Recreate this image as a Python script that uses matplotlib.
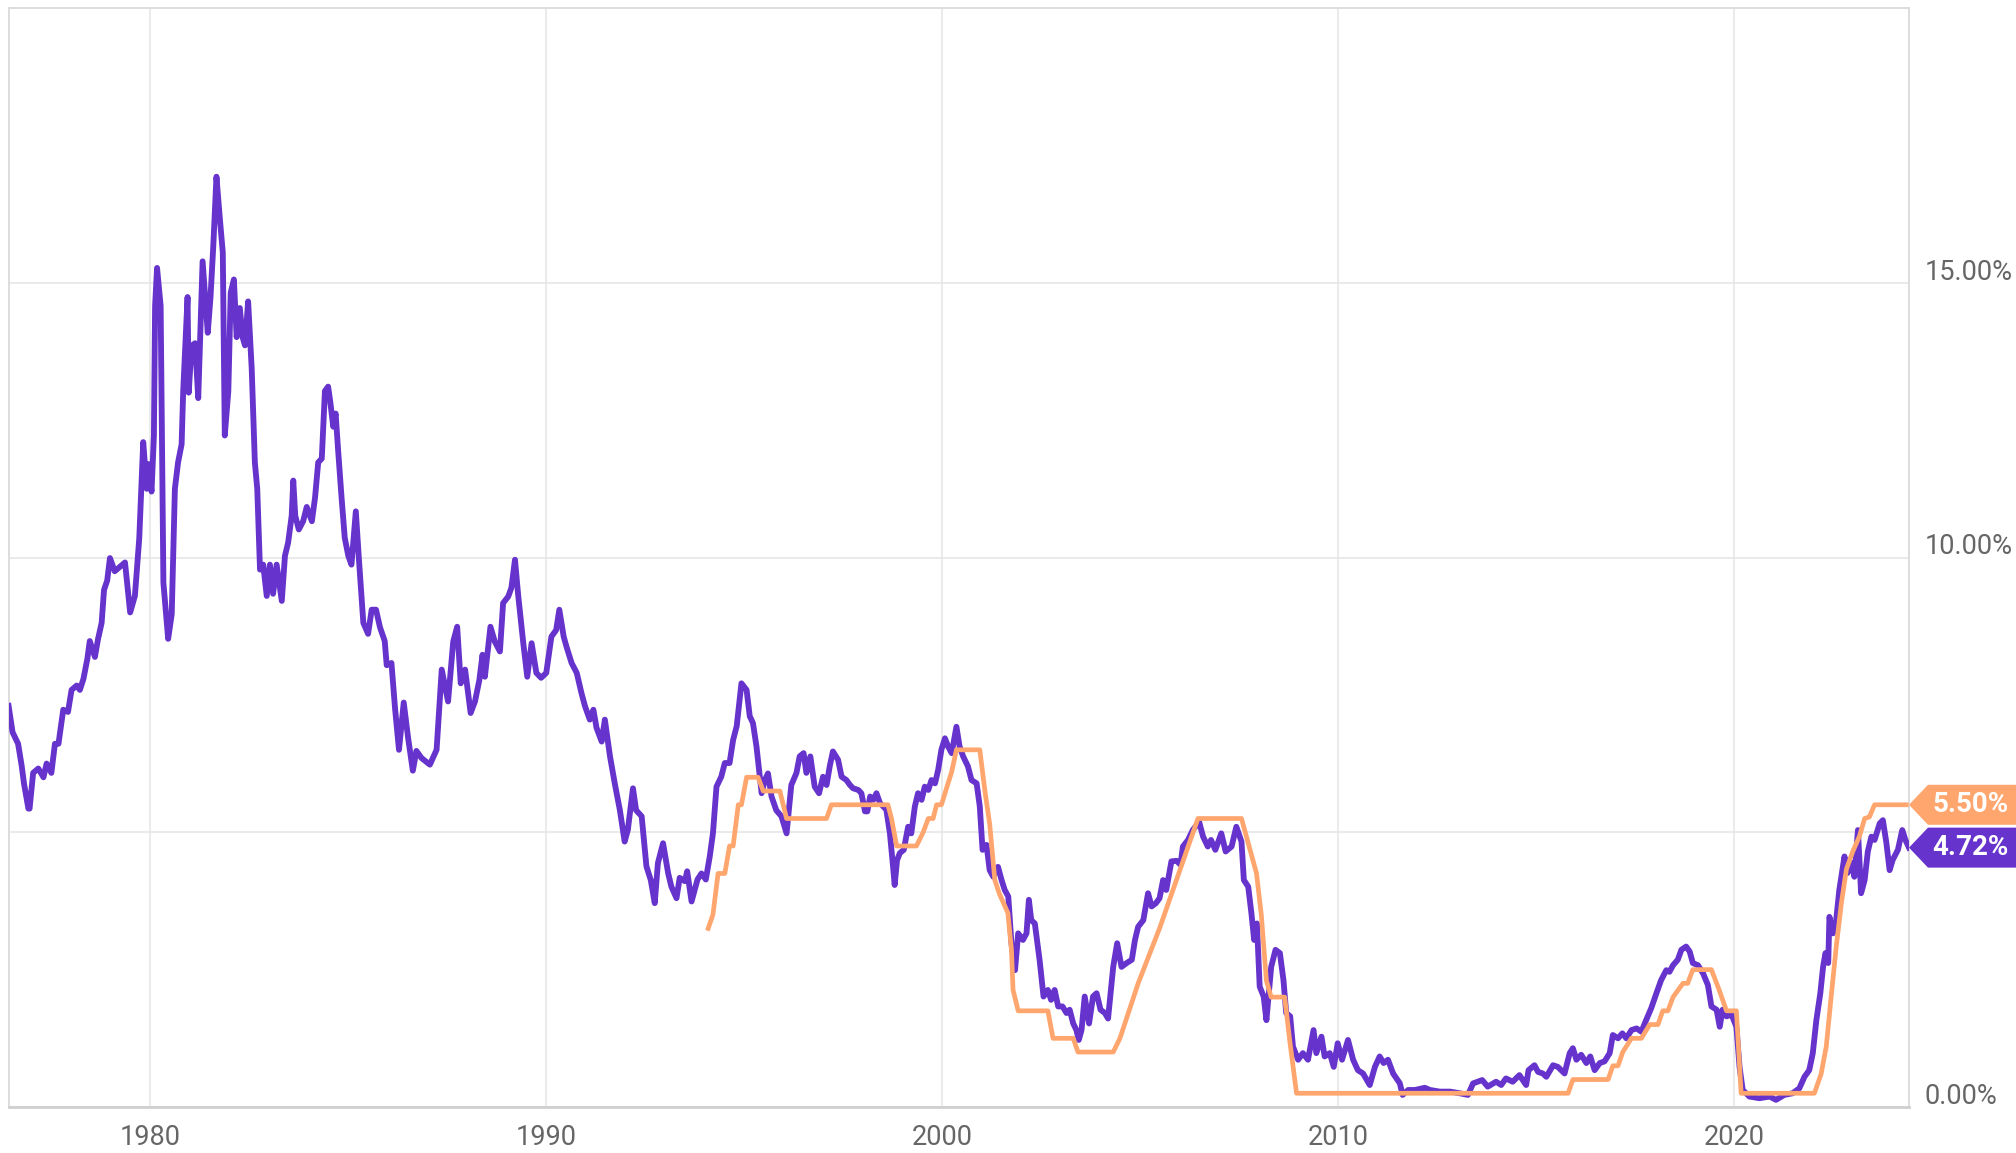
import matplotlib
matplotlib.use("Agg")
import matplotlib.pyplot as plt
from matplotlib.patches import Polygon
from matplotlib.transforms import offset_copy, IdentityTransform

# 2 year treasury yield (decimal year, %)
t2y_dates = [
    1976.42, 1976.52, 1976.66, 1976.75, 1976.81, 1976.92, 1976.95, 1977.04, 1977.17, 1977.30,
    1977.38, 1977.50, 1977.59, 1977.68, 1977.80, 1977.92, 1978.01, 1978.14, 1978.22, 1978.31,
    1978.41, 1978.47, 1978.60, 1978.68, 1978.77, 1978.83, 1978.91, 1978.98, 1979.10, 1979.23,
    1979.36, 1979.49, 1979.61, 1979.69, 1979.72, 1979.82, 1979.91, 1979.95, 1980.03, 1980.09,
    1980.12, 1980.17, 1980.26, 1980.33, 1980.45, 1980.54, 1980.62, 1980.70, 1980.79, 1980.83,
    1980.94, 1980.97, 1981.04, 1981.13, 1981.21, 1981.32, 1981.45, 1981.52, 1981.59, 1981.67,
    1981.76, 1981.83, 1981.88, 1981.97, 1982.03, 1982.11, 1982.18, 1982.26, 1982.33, 1982.39,
    1982.47, 1982.56, 1982.64, 1982.70, 1982.77, 1982.85, 1982.94, 1983.02, 1983.10, 1983.19,
    1983.32, 1983.40, 1983.48, 1983.57, 1983.61, 1983.66, 1983.75, 1983.86, 1983.95, 1984.08,
    1984.16, 1984.24, 1984.33, 1984.41, 1984.49, 1984.54, 1984.62, 1984.68, 1984.74, 1984.83,
    1984.91, 1985.00, 1985.08, 1985.19, 1985.27, 1985.38, 1985.50, 1985.59, 1985.70, 1985.80,
    1985.92, 1985.97, 1986.09, 1986.18, 1986.28, 1986.40, 1986.51, 1986.63, 1986.72, 1986.85,
    1987.06, 1987.23, 1987.36, 1987.52, 1987.65, 1987.75, 1987.84, 1987.95, 1988.09, 1988.20,
    1988.31, 1988.39, 1988.45, 1988.59, 1988.70, 1988.83, 1988.91, 1989.04, 1989.12, 1989.21,
    1989.29, 1989.42, 1989.52, 1989.63, 1989.75, 1989.87, 1990.00, 1990.13, 1990.25, 1990.33,
    1990.44, 1990.51, 1990.64, 1990.77, 1990.89, 1990.98, 1991.10, 1991.19, 1991.27, 1991.40,
    1991.48, 1991.61, 1991.73, 1991.86, 1991.98, 1992.06, 1992.19, 1992.27, 1992.41, 1992.53,
    1992.64, 1992.74, 1992.82, 1992.95, 1993.08, 1993.16, 1993.29, 1993.37, 1993.50, 1993.56,
    1993.67, 1993.82, 1993.92, 1994.03, 1994.13, 1994.21, 1994.30, 1994.42, 1994.51, 1994.63,
    1994.72, 1994.81, 1994.93, 1995.06, 1995.14, 1995.22, 1995.31, 1995.44, 1995.52, 1995.60,
    1995.69, 1995.81, 1995.94, 1996.07, 1996.19, 1996.32, 1996.40, 1996.50, 1996.57, 1996.67,
    1996.78, 1996.89, 1996.99, 1997.08, 1997.16, 1997.24, 1997.37, 1997.46, 1997.58, 1997.67,
    1997.75, 1997.88, 1997.96, 1998.05, 1998.11, 1998.18, 1998.26, 1998.34, 1998.43, 1998.59,
    1998.68, 1998.76, 1998.80, 1998.86, 1998.93, 1999.03, 1999.14, 1999.22, 1999.31, 1999.39,
    1999.48, 1999.56, 1999.65, 1999.73, 1999.82, 1999.90, 1999.98, 2000.07, 2000.15, 2000.24,
    2000.36, 2000.44, 2000.53, 2000.65, 2000.74, 2000.87, 2000.95, 2001.02, 2001.12, 2001.20,
    2001.29, 2001.41, 2001.50, 2001.58, 2001.67, 2001.75, 2001.84, 2001.92, 2002.04, 2002.13,
    2002.19, 2002.25, 2002.34, 2002.46, 2002.56, 2002.67, 2002.75, 2002.84, 2002.93, 2003.04,
    2003.14, 2003.22, 2003.31, 2003.39, 2003.45, 2003.52, 2003.60, 2003.71, 2003.81, 2003.90,
    2004.00, 2004.11, 2004.19, 2004.32, 2004.42, 2004.53, 2004.66, 2004.79, 2004.87, 2004.95,
    2005.08, 2005.20, 2005.29, 2005.40, 2005.49, 2005.58, 2005.66, 2005.79, 2005.92, 2006.02,
    2006.08, 2006.21, 2006.33, 2006.49, 2006.59, 2006.71, 2006.79, 2006.90, 2007.05, 2007.16,
    2007.31, 2007.43, 2007.56, 2007.62, 2007.73, 2007.81, 2007.88, 2007.95, 2008.02, 2008.12,
    2008.19, 2008.31, 2008.42, 2008.53, 2008.62, 2008.69, 2008.79, 2008.86, 2008.99, 2009.11,
    2009.24, 2009.38, 2009.45, 2009.58, 2009.66, 2009.79, 2009.89, 2009.99, 2010.10, 2010.25,
    2010.38, 2010.50, 2010.63, 2010.80, 2010.93, 2011.05, 2011.15, 2011.26, 2011.39, 2011.56,
    2011.63, 2011.77, 2011.94, 2012.19, 2012.32, 2012.57, 2012.83, 2013.07, 2013.28, 2013.41,
    2013.64, 2013.78, 2013.99, 2014.12, 2014.24, 2014.41, 2014.58, 2014.75, 2014.81, 2014.96,
    2015.05, 2015.17, 2015.26, 2015.43, 2015.55, 2015.72, 2015.85, 2015.93, 2016.02, 2016.14,
    2016.27, 2016.37, 2016.48, 2016.61, 2016.73, 2016.86, 2016.94, 2017.07, 2017.18, 2017.28,
    2017.41, 2017.54, 2017.66, 2017.78, 2017.91, 2018.04, 2018.16, 2018.29, 2018.37, 2018.46,
    2018.58, 2018.67, 2018.79, 2018.88, 2018.96, 2019.09, 2019.22, 2019.34, 2019.43, 2019.56,
    2019.64, 2019.71, 2019.81, 2019.94, 2020.06, 2020.14, 2020.22, 2020.39, 2020.64, 2020.90,
    2021.06, 2021.27, 2021.48, 2021.65, 2021.78, 2021.90, 2021.99, 2022.08, 2022.18, 2022.25,
    2022.31, 2022.38, 2022.41, 2022.50, 2022.58, 2022.66, 2022.79, 2022.87, 2022.98, 2023.04,
    2023.13, 2023.21, 2023.30, 2023.38, 2023.47, 2023.55, 2023.68, 2023.76, 2023.85, 2023.93,
    2024.01, 2024.14, 2024.25, 2024.33, 2024.42,
]
t2y_vals = [
    7.30, 6.82, 6.61, 6.21, 5.88, 5.43, 5.43, 6.08, 6.16, 6.00,
    6.25, 6.08, 6.61, 6.61, 7.23, 7.19, 7.59, 7.67, 7.59, 7.79,
    8.16, 8.48, 8.19, 8.52, 8.81, 9.41, 9.58, 9.99, 9.75, 9.83,
    9.91, 9.00, 9.30, 10.07, 10.35, 12.10, 11.25, 11.70, 11.20, 12.22,
    14.58, 15.27, 14.58, 9.54, 8.52, 8.97, 11.25, 11.73, 12.06, 13.03,
    14.74, 13.00, 13.85, 13.90, 12.90, 15.39, 14.09, 14.74, 15.67, 16.93,
    16.13, 15.55, 12.22, 13.03, 14.82, 15.06, 14.01, 14.54, 14.01, 13.86,
    14.66, 13.44, 11.73, 11.25, 9.78, 9.87, 9.30, 9.87, 9.34, 9.87,
    9.21, 10.03, 10.27, 10.76, 11.40, 10.76, 10.51, 10.66, 10.92, 10.66,
    11.09, 11.73, 11.80, 13.03, 13.11, 12.86, 12.38, 12.62, 11.98, 11.09,
    10.36, 10.03, 9.87, 10.84, 9.95, 8.81, 8.61, 9.05, 9.05, 8.73,
    8.48, 8.04, 8.08, 7.26, 6.50, 7.36, 6.72, 6.12, 6.48, 6.35,
    6.23, 6.50, 7.96, 7.38, 8.47, 8.74, 7.71, 7.96, 7.17, 7.38,
    7.77, 8.23, 7.83, 8.74, 8.47, 8.29, 9.17, 9.29, 9.45, 9.96,
    9.32, 8.44, 7.83, 8.44, 7.90, 7.81, 7.90, 8.56, 8.68, 9.05,
    8.56, 8.38, 8.08, 7.90, 7.53, 7.29, 7.05, 7.23, 6.90, 6.65,
    7.05, 6.38, 5.89, 5.40, 4.83, 5.04, 5.80, 5.40, 5.29, 4.38,
    4.13, 3.71, 4.44, 4.80, 4.25, 4.01, 3.80, 4.17, 4.11, 4.29,
    3.74, 4.14, 4.25, 4.14, 4.56, 4.98, 5.83, 6.01, 6.26, 6.26,
    6.68, 6.93, 7.71, 7.59, 7.11, 6.99, 6.56, 5.71, 5.95, 6.07,
    5.65, 5.40, 5.29, 4.98, 5.86, 6.08, 6.38, 6.44, 6.08, 6.38,
    5.83, 5.71, 6.01, 5.86, 6.20, 6.47, 6.32, 6.01, 5.95, 5.86,
    5.80, 5.77, 5.71, 5.38, 5.38, 5.65, 5.59, 5.71, 5.53, 5.41,
    4.98, 4.37, 4.04, 4.49, 4.62, 4.68, 5.10, 4.98, 5.47, 5.71,
    5.59, 5.83, 5.77, 5.95, 5.89, 6.14, 6.50, 6.71, 6.56, 6.44,
    6.92, 6.56, 6.38, 6.20, 5.95, 5.89, 5.47, 4.68, 4.77, 4.31,
    4.19, 4.37, 4.13, 3.95, 3.83, 2.98, 2.49, 3.16, 3.04, 3.16,
    3.77, 3.40, 3.34, 2.68, 2.01, 2.13, 1.95, 2.13, 1.83, 1.83,
    1.71, 1.77, 1.52, 1.40, 1.22, 1.40, 2.01, 1.52, 2.01, 2.07,
    1.77, 1.71, 1.61, 2.55, 2.98, 2.55, 2.62, 2.68, 3.04, 3.28,
    3.40, 3.89, 3.65, 3.71, 3.80, 4.13, 3.95, 4.47, 4.48, 4.41,
    4.74, 4.86, 5.04, 5.19, 4.92, 4.74, 4.86, 4.68, 4.98, 4.65,
    4.74, 5.10, 4.83, 4.13, 4.01, 3.53, 3.04, 3.34, 2.19, 2.01,
    1.58, 2.55, 2.86, 2.80, 2.31, 1.71, 1.65, 1.10, 0.86, 0.98,
    0.86, 1.40, 0.98, 1.28, 0.92, 0.98, 0.73, 1.16, 0.86, 1.22,
    0.86, 0.67, 0.61, 0.40, 0.73, 0.92, 0.80, 0.86, 0.61, 0.43,
    0.22, 0.31, 0.31, 0.35, 0.31, 0.28, 0.28, 0.25, 0.22, 0.43,
    0.49, 0.37, 0.46, 0.40, 0.52, 0.46, 0.58, 0.40, 0.67, 0.76,
    0.64, 0.61, 0.55, 0.76, 0.73, 0.61, 0.98, 1.07, 0.86, 0.95,
    0.80, 0.92, 0.67, 0.80, 0.83, 0.98, 1.31, 1.25, 1.34, 1.25,
    1.40, 1.43, 1.37, 1.58, 1.80, 2.07, 2.31, 2.49, 2.46, 2.58,
    2.68, 2.86, 2.92, 2.83, 2.62, 2.58, 2.43, 2.22, 1.83, 1.77,
    1.46, 1.77, 1.65, 1.68, 1.46, 0.73, 0.31, 0.19, 0.16, 0.19,
    0.13, 0.22, 0.25, 0.34, 0.55, 0.67, 0.98, 1.58, 2.07, 2.55,
    2.80, 2.62, 3.46, 3.16, 3.40, 3.95, 4.56, 4.26, 4.44, 4.19,
    5.04, 3.89, 4.13, 4.65, 4.92, 4.86, 5.16, 5.22, 4.80, 4.31,
    4.50, 4.68, 5.04, 4.86, 4.72,
]

# fed funds target rate, upper bound (decimal year, %)
ff_dates = [
    1994.09, 1994.21, 1994.34, 1994.51, 1994.63, 1994.72, 1994.85, 1994.93, 1995.06, 1995.35,
    1995.48, 1995.90, 1996.07, 1997.08, 1997.20, 1998.63, 1998.72, 1998.85, 1999.35, 1999.52,
    1999.65, 1999.77, 1999.86, 1999.98, 2000.11, 2000.24, 2000.36, 2000.95, 2001.08, 2001.20,
    2001.33, 2001.44, 2001.66, 2001.75, 2001.79, 2001.92, 2002.67, 2002.80, 2003.31, 2003.43,
    2004.32, 2004.49, 2004.95, 2005.49, 2006.46, 2007.56, 2007.75, 2007.94, 2008.06, 2008.19,
    2008.31, 2008.65, 2008.78, 2008.95, 2015.81, 2015.93, 2016.82, 2016.94, 2017.07, 2017.19,
    2017.41, 2017.66, 2017.87, 2018.08, 2018.20, 2018.33, 2018.46, 2018.71, 2018.83, 2018.96,
    2019.43, 2019.64, 2019.81, 2020.06, 2020.18, 2022.03, 2022.20, 2022.33, 2022.46, 2022.58,
    2022.71, 2022.84, 2023.00, 2023.17, 2023.30, 2023.42, 2023.55, 2024.35,
]
ff_vals = [
    3.25, 3.50, 4.25, 4.25, 4.75, 4.75, 5.50, 5.50, 6.00, 6.00,
    5.75, 5.75, 5.25, 5.25, 5.50, 5.50, 5.25, 4.75, 4.75, 5.00,
    5.25, 5.25, 5.50, 5.50, 5.80, 6.10, 6.50, 6.50, 5.75, 5.15,
    4.13, 3.89, 3.53, 2.86, 2.13, 1.75, 1.75, 1.25, 1.25, 1.00,
    1.00, 1.25, 2.25, 3.25, 5.25, 5.25, 4.75, 4.25, 3.50, 2.30,
    2.00, 2.00, 1.20, 0.25, 0.25, 0.50, 0.50, 0.75, 0.75, 1.00,
    1.25, 1.25, 1.50, 1.50, 1.75, 1.75, 2.00, 2.25, 2.25, 2.50,
    2.50, 2.10, 1.75, 1.75, 0.25, 0.25, 0.60, 1.10, 2.05, 2.90,
    3.70, 4.33, 4.65, 4.93, 5.25, 5.28, 5.50, 5.50,
]

x_ticks = [1980, 1990, 2000, 2010, 2020]
# 5% gridline exists but its label sits under the value tags
y_ticks = [0, 5, 10, 15]
y_label_ticks = [0, 10, 15]
y_tick_labels = ["0.00%", "10.00%", "15.00%"]

purple = "#6633cc"
orange = "#ffa56e"

plt.rcParams['font.family'] = ['Roboto', 'DejaVu Sans']

fig = plt.figure(figsize=(20.16, 11.53), dpi=100)
ax = fig.add_axes([9 / 2016, 46 / 1153, 1900 / 2016, 1099 / 1153])

ax.plot(t2y_dates, t2y_vals, color=purple, lw=4.2, solid_joinstyle='round', zorder=3)
ax.plot(ff_dates, ff_vals, color=orange, lw=3.4, solid_joinstyle='round', zorder=4)

ax.set_xlim(1976.43, 2024.42)
ax.set_ylim(0, 20)

ax.set_xticks(x_ticks)
ax.set_xticklabels([str(y) for y in x_ticks])
ax.set_yticks(y_ticks)
ax.set_yticklabels([])
ax.tick_params(axis='x', length=0, pad=12, labelsize=19.5, labelcolor='#666666')
ax.tick_params(axis='y', length=0)
ax.grid(True, color='#e6e6e6', lw=1.2, zorder=0)
ax.set_axisbelow(True)
for side in ['left', 'top', 'right']:
    ax.spines[side].set_color('#dadada')
    ax.spines[side].set_linewidth(1.3)
ax.spines['bottom'].set_color('#cfcfcf')
ax.spines['bottom'].set_linewidth(2)

# y labels on the right, sitting just above their gridline
ytrans = offset_copy(ax.get_yaxis_transform(), fig=fig, x=16, y=3, units='dots')
for v, lab in zip(y_label_ticks, y_tick_labels):
    ax.text(1, v, lab, transform=ytrans, ha='left', va='baseline',
            fontsize=19.5, color='#666666', clip_on=False)

# value tags at the right edge
fig.canvas.draw()
W = fig.bbox.width
for val, col in [(ff_vals[-1], orange), (t2y_vals[-1], purple)]:
    x0, yc = ax.get_yaxis_transform().transform((1, val))
    pts = [(x0, yc), (x0 + 19, yc + 20), (W, yc + 20), (W, yc - 20), (x0 + 19, yc - 20)]
    fig.patches.append(Polygon(pts, closed=True, facecolor=col, edgecolor='none',
                               transform=IdentityTransform(), zorder=5))
    fig.text((x0 + 23) / W, yc / fig.bbox.height, "%.2f%%" % val, color='white',
             fontsize=20, fontweight='bold', ha='left', va='center', zorder=6)

fig.savefig("out.png", dpi=100)
